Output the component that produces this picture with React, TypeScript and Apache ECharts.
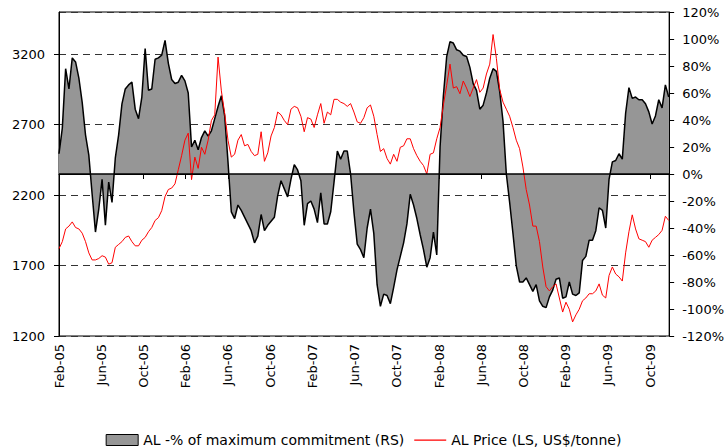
import React, { useEffect, useRef } from "react";
import * as echarts from "echarts";

// Observations are spaced ~0.314 months apart, starting Feb-2005 (month offset 0)
const STEP_MONTHS = 0.3139;

const xTickLabels = [
  "Feb-05", "Jun-05", "Oct-05", "Feb-06", "Jun-06", "Oct-06", "Feb-07", "Jun-07",
  "Oct-07", "Feb-08", "Jun-08", "Oct-08", "Feb-09", "Jun-09", "Oct-09",
];

const commitName = "AL -% of maximum commitment (RS)";
const priceName = "AL Price (LS, US$/tonne)";

// AL - % of maximum commitment (right scale, %)
const commitmentPct = [
  15, 34, 78, 63, 86, 83, 71, 53, 29, 14, -15, -43, -26, -4, -38, -6, -21, 12, 29, 52,
  63, 66, 68, 48, 41, 57, 93, 62, 63, 85, 86, 88, 99, 82, 70, 67, 68, 73, 69, 60,
  20, 25, 18, 27, 32, 28, 32,
  41, 50, 58, 43, 9, -28, -33, -23, -27, -32, -37, -42, -51, -46, -30, -42, -38, -35, -32, -16,
  -5, -11, -17, -4, 7, 3, -5, -38, -22, -20, -26, -36, -14, -37, -37, -28, -6, 17, 11, 17,
  17, 0, -28, -52, -56, -62, -40,
  -26, -44, -82, -98, -89, -90, -96, -84, -71, -61, -51, -37, -15, -23, -33, -45, -56, -69, -62, -43,
  -60, 20, 58, 87, 98, 97, 92, 91, 88, 87, 79, 67, 62, 48, 51, 60, 71, 78, 76, 61,
  39, 0, -21, -44, -68, -80,
  -80, -77, -82, -87, -82, -94, -98, -99, -91, -86, -78, -77, -92, -91, -80, -89, -90, -88, -64, -61,
  -49, -49, -42, -25, -27, -40, -4, 9, 10, 15, 11, 45, 64, 56, 57, 55, 55, 52, 46, 37,
  43, 55, 49, 66, 57,
];

// AL price (left scale, US$/tonne)
const alPrice = [
  1820, 1870, 1960, 1980, 2010, 1970, 1960, 1930, 1870, 1790, 1740, 1740, 1750, 1770, 1760, 1710, 1720, 1830, 1850, 1870,
  1900, 1910, 1870, 1840, 1840, 1880, 1900, 1940, 1970, 2020, 2040, 2090, 2190, 2240, 2250, 2280, 2380, 2480, 2590, 2640,
  2310, 2470, 2390, 2540, 2490, 2590, 2730,
  2770, 3180, 2940, 2780, 2590, 2470, 2490, 2590, 2630, 2550, 2560, 2510, 2480, 2490, 2650, 2440, 2500, 2620, 2680, 2790,
  2770, 2730, 2700, 2810, 2830, 2820, 2760, 2650, 2750, 2740, 2680, 2770, 2850, 2710, 2790, 2770, 2880, 2880, 2860, 2850,
  2830, 2850, 2790, 2720, 2710, 2750, 2820,
  2840, 2760, 2630, 2510, 2530, 2460, 2420, 2490, 2440, 2540, 2550, 2600, 2600, 2530, 2480, 2440, 2410, 2350, 2490, 2500,
  2600, 2680, 2840, 2980, 3130, 2960, 2970, 2920, 3010, 2960, 2900, 2960, 3020, 2930, 2960, 3060, 3130, 3340, 3170, 2950,
  2860, 2810, 2760, 2680, 2590, 2530,
  2400, 2240, 2130, 1980, 1980, 1870, 1690, 1550, 1520, 1550, 1570, 1470, 1370, 1440, 1390, 1300, 1350, 1390, 1450, 1470,
  1500, 1500, 1520, 1570, 1490, 1470, 1630, 1690, 1640, 1620, 1590, 1790, 1940, 2060, 1960, 1890, 1880, 1870, 1830, 1880,
  1900, 1920, 1950, 2050, 2020,
];

const FONT = "DejaVu Sans";
// thin horizontal stroke inside a 32x11 box, used as the price legend icon
const LINE_ICON = "path://M0,0L32,0L32,0.01ZM0,5L32,5L32,6.2L0,6.2ZM0,11L32,11L32,11.01Z";

export default function App() {
  const ref = useRef<HTMLDivElement>(null);

  useEffect(() => {
    if (!ref.current) return;
    const chart = echarts.init(ref.current, null, { renderer: "svg" });
    const xs = commitmentPct.map((_, i) => +(i * STEP_MONTHS).toFixed(3));
    const commitData = commitmentPct.map((v, i) => [xs[i], v]);
    const priceData = alPrice.map((v, i) => [xs[i], v]);

    chart.setOption({
      animation: false,
      backgroundColor: "#ffffff",
      textStyle: { fontFamily: FONT, color: "#000" },
      grid: {
        left: 59,
        right: 54,
        top: 12,
        bottom: 112,
        show: true,
        borderColor: "#000",
        borderWidth: 1,
        backgroundColor: "transparent",
      },
      legend: {
        top: 428,
        left: "center",
        itemWidth: 32,
        itemHeight: 11,
        itemGap: 10,
        textStyle: { fontFamily: FONT, fontSize: 14, color: "#000" },
        data: [
          {
            name: commitName,
            icon: "rect",
            itemStyle: { color: "#969696", borderColor: "#000", borderWidth: 1 },
          },
          {
            name: priceName,
            icon: LINE_ICON,
            itemStyle: { color: "#ff0000", borderWidth: 0 },
          },
        ],
      },
      xAxis: {
        type: "value",
        min: 0,
        max: 57.8,
        interval: 4,
        axisLine: { show: true, lineStyle: { color: "#000", width: 1 } },
        axisTick: { show: true, inside: false, length: 5, lineStyle: { color: "#000" } },
        splitLine: { show: false },
        axisLabel: {
          rotate: 90,
          margin: 8,
          fontSize: 13,
          fontFamily: FONT,
          color: "#000",
          showMaxLabel: false,
          formatter: (v: number) => {
            const k = Math.round(v / 4);
            return Math.abs(v - k * 4) < 1e-6 && xTickLabels[k] ? xTickLabels[k] : "";
          },
        },
      },
      yAxis: [
        {
          type: "value",
          position: "left",
          min: 1200,
          max: 3500,
          interval: 500,
          axisLine: { show: true, lineStyle: { color: "#000", width: 1 } },
          axisTick: { show: true, inside: false, length: 5, lineStyle: { color: "#000" } },
          splitLine: {
            show: true,
            lineStyle: { color: "#333", type: [7, 5], width: 1 },
          },
          axisLabel: {
            margin: 14,
            fontSize: 13,
            fontFamily: FONT,
            color: "#000",
            showMaxLabel: false,
            formatter: (v: number) => ((v - 1200) % 500 === 0 ? String(v) : ""),
          },
        },
        {
          type: "value",
          position: "right",
          min: -120,
          max: 120,
          interval: 20,
          axisLine: { show: true, lineStyle: { color: "#000", width: 1 } },
          axisTick: { show: true, inside: false, length: 5, lineStyle: { color: "#000" } },
          splitLine: { show: false },
          axisLabel: {
            margin: 13,
            fontSize: 13,
            fontFamily: FONT,
            color: "#000",
            formatter: (v: number) => `${v}%`,
          },
        },
      ],
      series: [
        {
          name: commitName,
          type: "line",
          yAxisIndex: 1,
          data: commitData,
          symbol: "none",
          lineStyle: { color: "#000", width: 1.5 },
          itemStyle: { color: "#969696" },
          areaStyle: { color: "#969696", opacity: 1 },
          z: 2,
          markLine: {
            silent: true,
            symbol: ["none", "none"],
            label: { show: false },
            lineStyle: { color: "#000", type: "solid", width: 1.5 },
            data: [{ yAxis: 0 }],
          },
        },
        {
          name: priceName,
          type: "line",
          yAxisIndex: 0,
          data: priceData,
          symbol: "none",
          lineStyle: { color: "#ff0000", width: 1 },
          itemStyle: { color: "#ff0000" },
          z: 3,
        },
      ],
    });

    return () => chart.dispose();
  }, []);

  return (
    <div style={{ position: "fixed", left: 0, top: 0, width: 727, height: 448, background: "#fff" }}>
      <div ref={ref} style={{ width: 727, height: 448 }} />
    </div>
  );
}
